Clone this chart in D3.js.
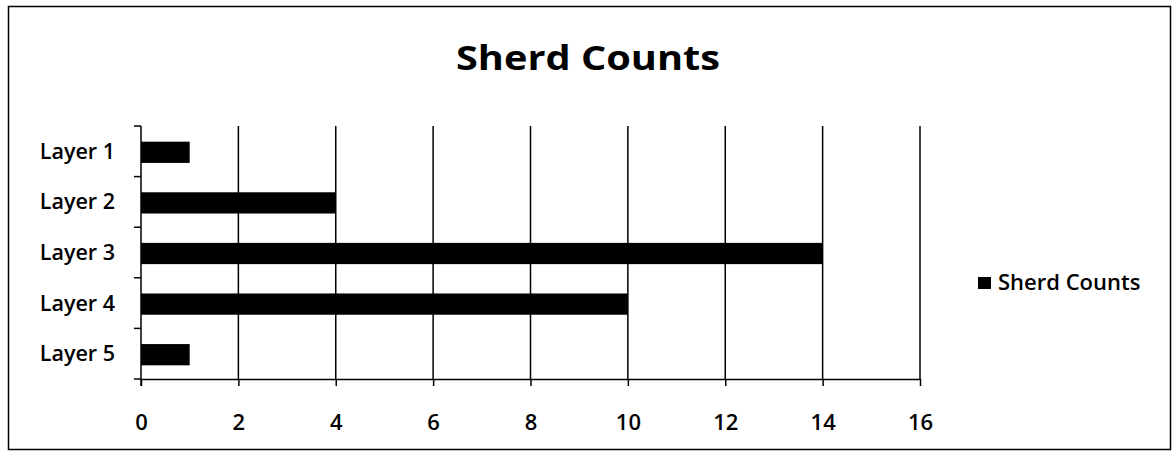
<!DOCTYPE html>
<html>
<head>
<meta charset="utf-8">
<script src="https://cdn.jsdelivr.net/npm/d3@7"></script>
<style>
  body { margin: 0; background: #fff; }
  text { font-family: "Open Sans", Lato, sans-serif; font-weight: 600; fill: #000; }
</style>
</head>
<body>
<div id="vis"></div>
<script>
// chart data
var layers = ["Layer 1", "Layer 2", "Layer 3", "Layer 4", "Layer 5"];
var sherdCounts = [1, 4, 14, 10, 1];
var xTicks = [0, 2, 4, 6, 8, 10, 12, 14, 16];
var seriesName = "Sherd Counts";

var width = 1175,
    height = 459,
    margin = { top: 126, left: 141, right: 255, bottom: 80 },
    drawWidth = width - margin.left - margin.right,   // 779
    drawHeight = height - margin.top - margin.bottom; // 253

var data = layers.map(function(d, i) {
    return { layer: d, value: sherdCounts[i] };
});

var svg = d3.select("#vis").append("svg")
    .attr("width", width)
    .attr("height", height);

// outer frame
svg.append("rect")
    .attr("x", 8.5).attr("y", 6.5)
    .attr("width", 1162).attr("height", 443)
    .attr("fill", "none")
    .attr("stroke", "#000")
    .attr("stroke-width", 1.5);

// title
svg.append("text")
    .attr("x", 588).attr("y", 70)
    .attr("text-anchor", "middle")
    .attr("textLength", 264)
    .attr("lengthAdjust", "spacingAndGlyphs")
    .style("font-size", "34px")
    .style("font-weight", "bold")
    .text("Sherd Counts");

var g = svg.append("g")
    .attr("transform", "translate(" + margin.left + "," + margin.top + ")");

var x = d3.scaleLinear().domain([0, 16]).range([0, drawWidth]);
var y = d3.scaleBand().domain(layers).range([0, drawHeight])
    .paddingInner(0.58).paddingOuter(0.29);
var yTick = d3.scaleLinear().domain([0, layers.length]).range([0, drawHeight]);

// vertical gridlines
g.selectAll(".grid")
    .data(xTicks.slice(1))
    .enter().append("line")
    .attr("class", "grid")
    .attr("x1", function(d) { return x(d); })
    .attr("x2", function(d) { return x(d); })
    .attr("y1", 0).attr("y2", drawHeight)
    .attr("stroke", "#000").attr("stroke-width", 1.5);

// bars
g.selectAll(".bar")
    .data(data)
    .enter().append("rect")
    .attr("class", "bar")
    .attr("x", 0)
    .attr("y", function(d) { return y(d.layer) + 1; })
    .attr("width", function(d) { return x(d.value); })
    .attr("height", y.bandwidth())
    .attr("fill", "#000");

// x axis
var xAxis = d3.axisBottom(x).tickValues(xTicks).tickSize(7).tickSizeOuter(0).tickPadding(28);
var gx = g.append("g")
    .attr("transform", "translate(0," + drawHeight + ")")
    .call(xAxis);
gx.select(".domain").attr("stroke-width", 1.5);
gx.selectAll(".tick line").attr("stroke-width", 1.5);
gx.selectAll("text")
    .style("font-size", "22px")
    .style("font-family", "'Open Sans', sans-serif")
    .attr("fill", "#000");

// y axis line and ticks between categories
g.append("line")
    .attr("x1", 0).attr("x2", 0)
    .attr("y1", 0).attr("y2", drawHeight + 7)
    .attr("stroke", "#000").attr("stroke-width", 1.5);
g.selectAll(".ytick")
    .data(d3.range(layers.length + 1))
    .enter().append("line")
    .attr("class", "ytick")
    .attr("x1", -7).attr("x2", 0)
    .attr("y1", function(d) { return yTick(d); })
    .attr("y2", function(d) { return yTick(d); })
    .attr("stroke", "#000").attr("stroke-width", 1.5);

// category labels
g.selectAll(".ylabel")
    .data(layers)
    .enter().append("text")
    .attr("class", "ylabel")
    .attr("x", -26)
    .attr("y", function(d) { return y(d) + y.bandwidth() / 2; })
    .attr("dy", "0.35em")
    .attr("text-anchor", "end")
    .style("font-size", "21.5px")
    .text(function(d) { return d; });

// legend
svg.append("rect")
    .attr("x", 978).attr("y", 277)
    .attr("width", 13).attr("height", 12)
    .attr("fill", "#000");
svg.append("text")
    .attr("x", 998).attr("y", 290)
    .style("font-size", "22px")
    .text(seriesName);
</script>
</body>
</html>
